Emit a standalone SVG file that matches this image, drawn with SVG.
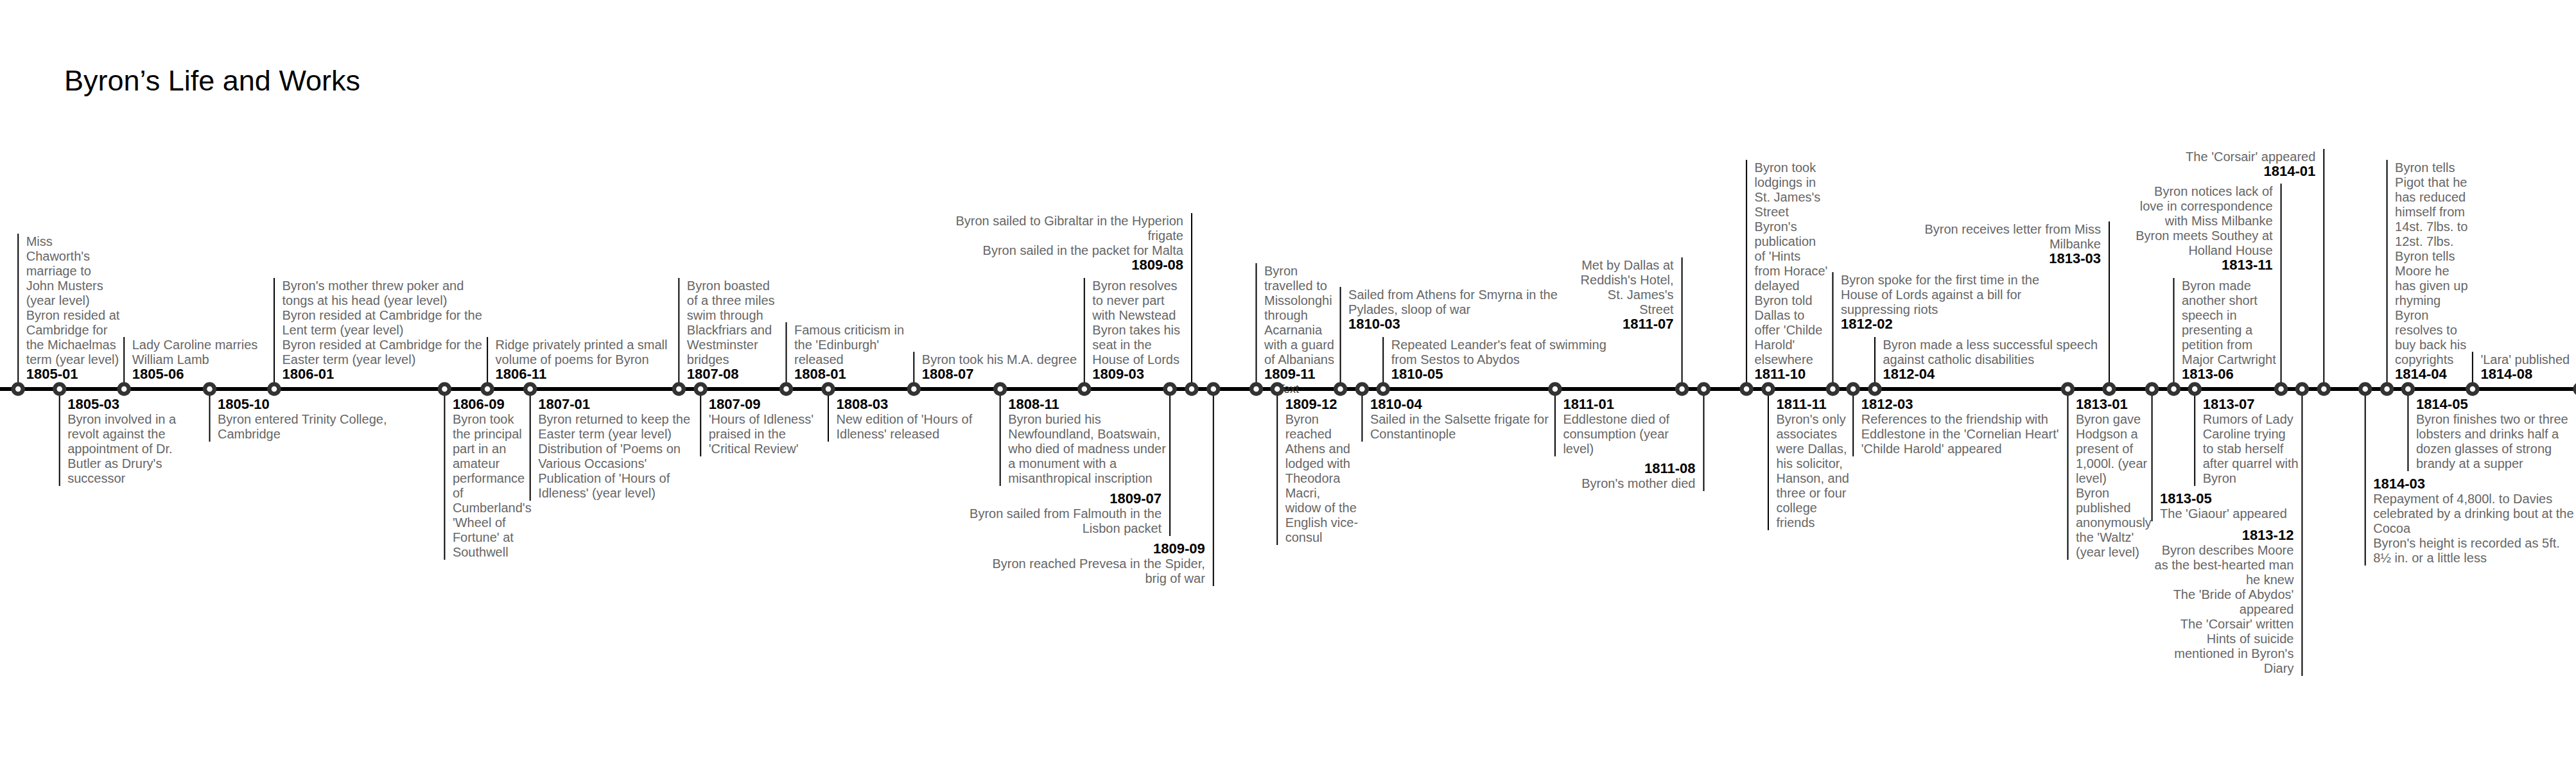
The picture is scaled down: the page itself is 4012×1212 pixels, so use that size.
<svg xmlns="http://www.w3.org/2000/svg" width="4012" height="1212" viewBox="0 0 4012 1212">
<style>
text{font-family:"Liberation Sans",Arial,Helvetica,sans-serif}
.ttl{font-size:45px;fill:#000}
.d{font-size:22px;font-weight:bold;fill:#000}
.t{font-size:20px;fill:#666}
.r{text-anchor:end}
.n{fill:#fff;stroke:#333;stroke-width:6.5}
.s{stroke:#000;stroke-width:2}
.tl{stroke:#000;stroke-width:6}
.x{font-size:18px;fill:#333}
</style>
<rect width="4012" height="1212" fill="#fff"/>
<text id="title" class="ttl" x="100" y="141">Byron’s Life and Works</text>
<g id="connectors">
<line class="tl" x1="0" y1="606" x2="4012" y2="606"/>
<line class="s" x1="28.2" y1="606" x2="28.2" y2="364"/>
<line class="s" x1="92.7" y1="606" x2="92.7" y2="757"/>
<line class="s" x1="193.2" y1="606" x2="193.2" y2="525"/>
<line class="s" x1="326.5" y1="606" x2="326.5" y2="688"/>
<line class="s" x1="427" y1="606" x2="427" y2="433"/>
<line class="s" x1="692.4" y1="606" x2="692.4" y2="872"/>
<line class="s" x1="759.1" y1="606" x2="759.1" y2="525"/>
<line class="s" x1="825.7" y1="606" x2="825.7" y2="780"/>
<line class="s" x1="1057.3" y1="606" x2="1057.3" y2="433"/>
<line class="s" x1="1091.2" y1="606" x2="1091.2" y2="711"/>
<line class="s" x1="1224.5" y1="606" x2="1224.5" y2="502"/>
<line class="s" x1="1290" y1="606" x2="1290" y2="688"/>
<line class="s" x1="1423.3" y1="606" x2="1423.3" y2="548"/>
<line class="s" x1="1557.7" y1="606" x2="1557.7" y2="757"/>
<line class="s" x1="1688.8" y1="606" x2="1688.8" y2="433"/>
<line class="s" x1="1822.1" y1="606" x2="1822.1" y2="835"/>
<line class="s" x1="1856" y1="606" x2="1856" y2="332"/>
<line class="s" x1="1889.8" y1="606" x2="1889.8" y2="913"/>
<line class="s" x1="1956.5" y1="606" x2="1956.5" y2="410"/>
<line class="s" x1="1989.2" y1="606" x2="1989.2" y2="849"/>
<line class="s" x1="2087.6" y1="606" x2="2087.6" y2="447"/>
<line class="s" x1="2121.4" y1="606" x2="2121.4" y2="688"/>
<line class="s" x1="2154.2" y1="606" x2="2154.2" y2="525"/>
<line class="s" x1="2421.9" y1="606" x2="2421.9" y2="711"/>
<line class="s" x1="2619.6" y1="606" x2="2619.6" y2="401"/>
<line class="s" x1="2653.5" y1="606" x2="2653.5" y2="765"/>
<line class="s" x1="2720.1" y1="606" x2="2720.1" y2="249"/>
<line class="s" x1="2754" y1="606" x2="2754" y2="826"/>
<line class="s" x1="2854.5" y1="606" x2="2854.5" y2="424"/>
<line class="s" x1="2886.2" y1="606" x2="2886.2" y2="711"/>
<line class="s" x1="2920" y1="606" x2="2920" y2="525"/>
<line class="s" x1="3220.5" y1="606" x2="3220.5" y2="872"/>
<line class="s" x1="3285" y1="606" x2="3285" y2="345"/>
<line class="s" x1="3351.6" y1="606" x2="3351.6" y2="812"/>
<line class="s" x1="3385.5" y1="606" x2="3385.5" y2="433"/>
<line class="s" x1="3418.2" y1="606" x2="3418.2" y2="757"/>
<line class="s" x1="3552.6" y1="606" x2="3552.6" y2="286"/>
<line class="s" x1="3585.4" y1="606" x2="3585.4" y2="1053"/>
<line class="s" x1="3619.3" y1="606" x2="3619.3" y2="232"/>
<line class="s" x1="3683.7" y1="606" x2="3683.7" y2="881"/>
<line class="s" x1="3717.6" y1="606" x2="3717.6" y2="249"/>
<line class="s" x1="3750.4" y1="606" x2="3750.4" y2="734"/>
<line class="s" x1="3850.9" y1="606" x2="3850.9" y2="548"/>
</g>
<text id="stray-text" class="x" x="1990" y="612">Text</text>

<g id="ev-1805-01"><circle class="n" cx="28.2" cy="606" r="7.5"/>
<text class="t" x="40.7" y="383">Miss<tspan x="40.7" dy="23">Chaworth's</tspan><tspan x="40.7" dy="23">marriage to</tspan><tspan x="40.7" dy="23">John Musters</tspan><tspan x="40.7" dy="23">(year level)</tspan><tspan x="40.7" dy="23">Byron resided at</tspan><tspan x="40.7" dy="23">Cambridge for</tspan><tspan x="40.7" dy="23">the Michaelmas</tspan><tspan x="40.7" dy="23">term (year level)</tspan></text>
<text class="d" x="40.7" y="590">1805-01</text></g>

<g id="ev-1805-03"><circle class="n" cx="92.7" cy="606" r="7.5"/>
<text class="d" x="105.2" y="637">1805-03</text>
<text class="t" x="105.2" y="660">Byron involved in a<tspan x="105.2" dy="23">revolt against the</tspan><tspan x="105.2" dy="23">appointment of Dr.</tspan><tspan x="105.2" dy="23">Butler as Drury's</tspan><tspan x="105.2" dy="23">successor</tspan></text></g>

<g id="ev-1805-06"><circle class="n" cx="193.2" cy="606" r="7.5"/>
<text class="t" x="205.7" y="544">Lady Caroline marries<tspan x="205.7" dy="23">William Lamb</tspan></text>
<text class="d" x="205.7" y="590">1805-06</text></g>

<g id="ev-1805-10"><circle class="n" cx="326.5" cy="606" r="7.5"/>
<text class="d" x="339" y="637">1805-10</text>
<text class="t" x="339" y="660">Byron entered Trinity College,<tspan x="339" dy="23">Cambridge</tspan></text></g>

<g id="ev-1806-01"><circle class="n" cx="427" cy="606" r="7.5"/>
<text class="t" x="439.5" y="452">Byron's mother threw poker and<tspan x="439.5" dy="23">tongs at his head (year level)</tspan><tspan x="439.5" dy="23">Byron resided at Cambridge for the</tspan><tspan x="439.5" dy="23">Lent term (year level)</tspan><tspan x="439.5" dy="23">Byron resided at Cambridge for the</tspan><tspan x="439.5" dy="23">Easter term (year level)</tspan></text>
<text class="d" x="439.5" y="590">1806-01</text></g>

<g id="ev-1806-09"><circle class="n" cx="692.4" cy="606" r="7.5"/>
<text class="d" x="704.9" y="637">1806-09</text>
<text class="t" x="704.9" y="660">Byron took<tspan x="704.9" dy="23">the principal</tspan><tspan x="704.9" dy="23">part in an</tspan><tspan x="704.9" dy="23">amateur</tspan><tspan x="704.9" dy="23">performance</tspan><tspan x="704.9" dy="23">of</tspan><tspan x="704.9" dy="23">Cumberland's</tspan><tspan x="704.9" dy="23">'Wheel of</tspan><tspan x="704.9" dy="23">Fortune' at</tspan><tspan x="704.9" dy="23">Southwell</tspan></text></g>

<g id="ev-1806-11"><circle class="n" cx="759.1" cy="606" r="7.5"/>
<text class="t" x="771.6" y="544">Ridge privately printed a small<tspan x="771.6" dy="23">volume of poems for Byron</tspan></text>
<text class="d" x="771.6" y="590">1806-11</text></g>

<g id="ev-1807-01"><circle class="n" cx="825.7" cy="606" r="7.5"/>
<text class="d" x="838.2" y="637">1807-01</text>
<text class="t" x="838.2" y="660">Byron returned to keep the<tspan x="838.2" dy="23">Easter term (year level)</tspan><tspan x="838.2" dy="23">Distribution of 'Poems on</tspan><tspan x="838.2" dy="23">Various Occasions'</tspan><tspan x="838.2" dy="23">Publication of 'Hours of</tspan><tspan x="838.2" dy="23">Idleness' (year level)</tspan></text></g>

<g id="ev-1807-08"><circle class="n" cx="1057.3" cy="606" r="7.5"/>
<text class="t" x="1069.8" y="452">Byron boasted<tspan x="1069.8" dy="23">of a three miles</tspan><tspan x="1069.8" dy="23">swim through</tspan><tspan x="1069.8" dy="23">Blackfriars and</tspan><tspan x="1069.8" dy="23">Westminster</tspan><tspan x="1069.8" dy="23">bridges</tspan></text>
<text class="d" x="1069.8" y="590">1807-08</text></g>

<g id="ev-1807-09"><circle class="n" cx="1091.2" cy="606" r="7.5"/>
<text class="d" x="1103.7" y="637">1807-09</text>
<text class="t" x="1103.7" y="660">'Hours of Idleness'<tspan x="1103.7" dy="23">praised in the</tspan><tspan x="1103.7" dy="23">'Critical Review'</tspan></text></g>

<g id="ev-1808-01"><circle class="n" cx="1224.5" cy="606" r="7.5"/>
<text class="t" x="1237" y="521">Famous criticism in<tspan x="1237" dy="23">the 'Edinburgh'</tspan><tspan x="1237" dy="23">released</tspan></text>
<text class="d" x="1237" y="590">1808-01</text></g>

<g id="ev-1808-03"><circle class="n" cx="1290" cy="606" r="7.5"/>
<text class="d" x="1302.5" y="637">1808-03</text>
<text class="t" x="1302.5" y="660">New edition of 'Hours of<tspan x="1302.5" dy="23">Idleness' released</tspan></text></g>

<g id="ev-1808-07"><circle class="n" cx="1423.3" cy="606" r="7.5"/>
<text class="t" x="1435.8" y="567">Byron took his M.A. degree</text>
<text class="d" x="1435.8" y="590">1808-07</text></g>

<g id="ev-1808-11"><circle class="n" cx="1557.7" cy="606" r="7.5"/>
<text class="d" x="1570.2" y="637">1808-11</text>
<text class="t" x="1570.2" y="660">Byron buried his<tspan x="1570.2" dy="23">Newfoundland, Boatswain,</tspan><tspan x="1570.2" dy="23">who died of madness under</tspan><tspan x="1570.2" dy="23">a monument with a</tspan><tspan x="1570.2" dy="23">misanthropical inscription</tspan></text></g>

<g id="ev-1809-03"><circle class="n" cx="1688.8" cy="606" r="7.5"/>
<text class="t" x="1701.3" y="452">Byron resolves<tspan x="1701.3" dy="23">to never part</tspan><tspan x="1701.3" dy="23">with Newstead</tspan><tspan x="1701.3" dy="23">Byron takes his</tspan><tspan x="1701.3" dy="23">seat in the</tspan><tspan x="1701.3" dy="23">House of Lords</tspan></text>
<text class="d" x="1701.3" y="590">1809-03</text></g>

<g id="ev-1809-07"><circle class="n" cx="1822.1" cy="606" r="7.5"/>
<text class="d r" x="1809.1" y="784">1809-07</text>
<text class="t r" x="1809.1" y="807">Byron sailed from Falmouth in the<tspan x="1809.1" dy="23">Lisbon packet</tspan></text></g>

<g id="ev-1809-08"><circle class="n" cx="1856" cy="606" r="7.5"/>
<text class="t r" x="1843" y="351">Byron sailed to Gibraltar in the Hyperion<tspan x="1843" dy="23">frigate</tspan><tspan x="1843" dy="23">Byron sailed in the packet for Malta</tspan></text>
<text class="d r" x="1843" y="420">1809-08</text></g>

<g id="ev-1809-09"><circle class="n" cx="1889.8" cy="606" r="7.5"/>
<text class="d r" x="1876.8" y="862">1809-09</text>
<text class="t r" x="1876.8" y="885">Byron reached Prevesa in the Spider,<tspan x="1876.8" dy="23">brig of war</tspan></text></g>

<g id="ev-1809-11"><circle class="n" cx="1956.5" cy="606" r="7.5"/>
<text class="t" x="1969" y="429">Byron<tspan x="1969" dy="23">travelled to</tspan><tspan x="1969" dy="23">Missolonghi</tspan><tspan x="1969" dy="23">through</tspan><tspan x="1969" dy="23">Acarnania</tspan><tspan x="1969" dy="23">with a guard</tspan><tspan x="1969" dy="23">of Albanians</tspan></text>
<text class="d" x="1969" y="590">1809-11</text></g>

<g id="ev-1809-12"><circle class="n" cx="1989.2" cy="606" r="7.5"/>
<text class="d" x="2001.7" y="637">1809-12</text>
<text class="t" x="2001.7" y="660">Byron<tspan x="2001.7" dy="23">reached</tspan><tspan x="2001.7" dy="23">Athens and</tspan><tspan x="2001.7" dy="23">lodged with</tspan><tspan x="2001.7" dy="23">Theodora</tspan><tspan x="2001.7" dy="23">Macri,</tspan><tspan x="2001.7" dy="23">widow of the</tspan><tspan x="2001.7" dy="23">English vice-</tspan><tspan x="2001.7" dy="23">consul</tspan></text></g>

<g id="ev-1810-03"><circle class="n" cx="2087.6" cy="606" r="7.5"/>
<text class="t" x="2100.1" y="466">Sailed from Athens for Smyrna in the<tspan x="2100.1" dy="23">Pylades, sloop of war</tspan></text>
<text class="d" x="2100.1" y="512">1810-03</text></g>

<g id="ev-1810-04"><circle class="n" cx="2121.4" cy="606" r="7.5"/>
<text class="d" x="2133.9" y="637">1810-04</text>
<text class="t" x="2133.9" y="660">Sailed in the Salsette frigate for<tspan x="2133.9" dy="23">Constantinople</tspan></text></g>

<g id="ev-1810-05"><circle class="n" cx="2154.2" cy="606" r="7.5"/>
<text class="t" x="2166.7" y="544">Repeated Leander's feat of swimming<tspan x="2166.7" dy="23">from Sestos to Abydos</tspan></text>
<text class="d" x="2166.7" y="590">1810-05</text></g>

<g id="ev-1811-01"><circle class="n" cx="2421.9" cy="606" r="7.5"/>
<text class="d" x="2434.4" y="637">1811-01</text>
<text class="t" x="2434.4" y="660">Eddlestone died of<tspan x="2434.4" dy="23">consumption (year</tspan><tspan x="2434.4" dy="23">level)</tspan></text></g>

<g id="ev-1811-07"><circle class="n" cx="2619.6" cy="606" r="7.5"/>
<text class="t r" x="2606.6" y="420">Met by Dallas at<tspan x="2606.6" dy="23">Reddish's Hotel,</tspan><tspan x="2606.6" dy="23">St. James's</tspan><tspan x="2606.6" dy="23">Street</tspan></text>
<text class="d r" x="2606.6" y="512">1811-07</text></g>

<g id="ev-1811-08"><circle class="n" cx="2653.5" cy="606" r="7.5"/>
<text class="d r" x="2640.5" y="737">1811-08</text>
<text class="t r" x="2640.5" y="760">Byron's mother died</text></g>

<g id="ev-1811-10"><circle class="n" cx="2720.1" cy="606" r="7.5"/>
<text class="t" x="2732.6" y="268">Byron took<tspan x="2732.6" dy="23">lodgings in</tspan><tspan x="2732.6" dy="23">St. James's</tspan><tspan x="2732.6" dy="23">Street</tspan><tspan x="2732.6" dy="23">Byron's</tspan><tspan x="2732.6" dy="23">publication</tspan><tspan x="2732.6" dy="23">of 'Hints</tspan><tspan x="2732.6" dy="23">from Horace'</tspan><tspan x="2732.6" dy="23">delayed</tspan><tspan x="2732.6" dy="23">Byron told</tspan><tspan x="2732.6" dy="23">Dallas to</tspan><tspan x="2732.6" dy="23">offer 'Childe</tspan><tspan x="2732.6" dy="23">Harold'</tspan><tspan x="2732.6" dy="23">elsewhere</tspan></text>
<text class="d" x="2732.6" y="590">1811-10</text></g>

<g id="ev-1811-11"><circle class="n" cx="2754" cy="606" r="7.5"/>
<text class="d" x="2766.5" y="637">1811-11</text>
<text class="t" x="2766.5" y="660">Byron's only<tspan x="2766.5" dy="23">associates</tspan><tspan x="2766.5" dy="23">were Dallas,</tspan><tspan x="2766.5" dy="23">his solicitor,</tspan><tspan x="2766.5" dy="23">Hanson, and</tspan><tspan x="2766.5" dy="23">three or four</tspan><tspan x="2766.5" dy="23">college</tspan><tspan x="2766.5" dy="23">friends</tspan></text></g>

<g id="ev-1812-02"><circle class="n" cx="2854.5" cy="606" r="7.5"/>
<text class="t" x="2867" y="443">Byron spoke for the first time in the<tspan x="2867" dy="23">House of Lords against a bill for</tspan><tspan x="2867" dy="23">suppressing riots</tspan></text>
<text class="d" x="2867" y="512">1812-02</text></g>

<g id="ev-1812-03"><circle class="n" cx="2886.2" cy="606" r="7.5"/>
<text class="d" x="2898.7" y="637">1812-03</text>
<text class="t" x="2898.7" y="660">References to the friendship with<tspan x="2898.7" dy="23">Eddlestone in the 'Cornelian Heart'</tspan><tspan x="2898.7" dy="23">'Childe Harold' appeared</tspan></text></g>

<g id="ev-1812-04"><circle class="n" cx="2920" cy="606" r="7.5"/>
<text class="t" x="2932.5" y="544">Byron made a less successful speech<tspan x="2932.5" dy="23">against catholic disabilities</tspan></text>
<text class="d" x="2932.5" y="590">1812-04</text></g>

<g id="ev-1813-01"><circle class="n" cx="3220.5" cy="606" r="7.5"/>
<text class="d" x="3233" y="637">1813-01</text>
<text class="t" x="3233" y="660">Byron gave<tspan x="3233" dy="23">Hodgson a</tspan><tspan x="3233" dy="23">present of</tspan><tspan x="3233" dy="23">1,000l. (year</tspan><tspan x="3233" dy="23">level)</tspan><tspan x="3233" dy="23">Byron</tspan><tspan x="3233" dy="23">published</tspan><tspan x="3233" dy="23">anonymously</tspan><tspan x="3233" dy="23">the 'Waltz'</tspan><tspan x="3233" dy="23">(year level)</tspan></text></g>

<g id="ev-1813-03"><circle class="n" cx="3285" cy="606" r="7.5"/>
<text class="t r" x="3272" y="364">Byron receives letter from Miss<tspan x="3272" dy="23">Milbanke</tspan></text>
<text class="d r" x="3272" y="410">1813-03</text></g>

<g id="ev-1813-05"><circle class="n" cx="3351.6" cy="606" r="7.5"/>
<text class="d" x="3364.1" y="784">1813-05</text>
<text class="t" x="3364.1" y="807">The 'Giaour' appeared</text></g>

<g id="ev-1813-06"><circle class="n" cx="3385.5" cy="606" r="7.5"/>
<text class="t" x="3398" y="452">Byron made<tspan x="3398" dy="23">another short</tspan><tspan x="3398" dy="23">speech in</tspan><tspan x="3398" dy="23">presenting a</tspan><tspan x="3398" dy="23">petition from</tspan><tspan x="3398" dy="23">Major Cartwright</tspan></text>
<text class="d" x="3398" y="590">1813-06</text></g>

<g id="ev-1813-07"><circle class="n" cx="3418.2" cy="606" r="7.5"/>
<text class="d" x="3430.7" y="637">1813-07</text>
<text class="t" x="3430.7" y="660">Rumors of Lady<tspan x="3430.7" dy="23">Caroline trying</tspan><tspan x="3430.7" dy="23">to stab herself</tspan><tspan x="3430.7" dy="23">after quarrel with</tspan><tspan x="3430.7" dy="23">Byron</tspan></text></g>

<g id="ev-1813-11"><circle class="n" cx="3552.6" cy="606" r="7.5"/>
<text class="t r" x="3539.6" y="305">Byron notices lack of<tspan x="3539.6" dy="23">love in correspondence</tspan><tspan x="3539.6" dy="23">with Miss Milbanke</tspan><tspan x="3539.6" dy="23">Byron meets Southey at</tspan><tspan x="3539.6" dy="23">Holland House</tspan></text>
<text class="d r" x="3539.6" y="420">1813-11</text></g>

<g id="ev-1813-12"><circle class="n" cx="3585.4" cy="606" r="7.5"/>
<text class="d r" x="3572.4" y="841">1813-12</text>
<text class="t r" x="3572.4" y="864">Byron describes Moore<tspan x="3572.4" dy="23">as the best-hearted man</tspan><tspan x="3572.4" dy="23">he knew</tspan><tspan x="3572.4" dy="23">The 'Bride of Abydos'</tspan><tspan x="3572.4" dy="23">appeared</tspan><tspan x="3572.4" dy="23">The 'Corsair' written</tspan><tspan x="3572.4" dy="23">Hints of suicide</tspan><tspan x="3572.4" dy="23">mentioned in Byron's</tspan><tspan x="3572.4" dy="23">Diary</tspan></text></g>

<g id="ev-1814-01"><circle class="n" cx="3619.3" cy="606" r="7.5"/>
<text class="t r" x="3606.3" y="251">The 'Corsair' appeared</text>
<text class="d r" x="3606.3" y="274">1814-01</text></g>

<g id="ev-1814-03"><circle class="n" cx="3683.7" cy="606" r="7.5"/>
<text class="d" x="3696.2" y="761">1814-03</text>
<text class="t" x="3696.2" y="784">Repayment of 4,800l. to Davies<tspan x="3696.2" dy="23">celebrated by a drinking bout at the</tspan><tspan x="3696.2" dy="23">Cocoa</tspan><tspan x="3696.2" dy="23">Byron's height is recorded as 5ft.</tspan><tspan x="3696.2" dy="23">8½ in. or a little less</tspan></text></g>

<g id="ev-1814-04"><circle class="n" cx="3717.6" cy="606" r="7.5"/>
<text class="t" x="3730.1" y="268">Byron tells<tspan x="3730.1" dy="23">Pigot that he</tspan><tspan x="3730.1" dy="23">has reduced</tspan><tspan x="3730.1" dy="23">himself from</tspan><tspan x="3730.1" dy="23">14st. 7lbs. to</tspan><tspan x="3730.1" dy="23">12st. 7lbs.</tspan><tspan x="3730.1" dy="23">Byron tells</tspan><tspan x="3730.1" dy="23">Moore he</tspan><tspan x="3730.1" dy="23">has given up</tspan><tspan x="3730.1" dy="23">rhyming</tspan><tspan x="3730.1" dy="23">Byron</tspan><tspan x="3730.1" dy="23">resolves to</tspan><tspan x="3730.1" dy="23">buy back his</tspan><tspan x="3730.1" dy="23">copyrights</tspan></text>
<text class="d" x="3730.1" y="590">1814-04</text></g>

<g id="ev-1814-05"><circle class="n" cx="3750.4" cy="606" r="7.5"/>
<text class="d" x="3762.9" y="637">1814-05</text>
<text class="t" x="3762.9" y="660">Byron finishes two or three<tspan x="3762.9" dy="23">lobsters and drinks half a</tspan><tspan x="3762.9" dy="23">dozen glasses of strong</tspan><tspan x="3762.9" dy="23">brandy at a supper</tspan></text></g>

<g id="ev-1814-08"><circle class="n" cx="3850.9" cy="606" r="7.5"/>
<text class="t" x="3863.4" y="567">'Lara' published</text>
<text class="d" x="3863.4" y="590">1814-08</text></g>

<g id="ev-1815-01"><circle class="n" cx="4018" cy="606" r="7.5"/></g>
</svg>
